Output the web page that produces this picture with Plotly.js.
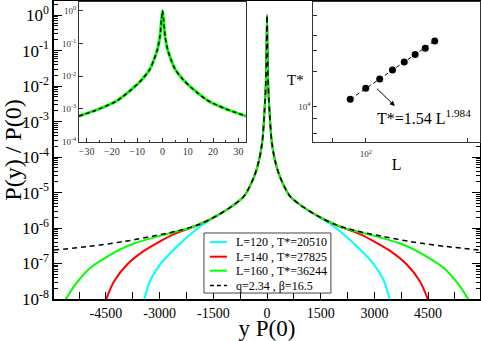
<!DOCTYPE html>
<html>
<head>
<meta charset="utf-8">
<script src="https://cdn.plot.ly/plotly-3.0.1.min.js"></script>
<style>html,body{margin:0;padding:0;background:#fff}</style>
</head>
<body>
<div id="chart" style="width:481px;height:341px"></div>
<script>
// main panel, y values kept as log10 of P(y)/P(0)
const dashX = [-5950,-5000,-4000,-3200,-2500,-1900,-1400,-1000,-640,-360,-220,-130,-70,-35,-15,0,15,35,70,130,220,360,640,1000,1400,1900,2500,3200,4000,5000,5950];
const dashLog = [-6.62,-6.52,-6.38,-6.23,-6.08,-5.9,-5.65,-5.4,-5.1,-4.55,-4.08,-3.55,-2.7,-2.0,-1.1,0,-1.1,-2.0,-2.7,-3.55,-4.08,-4.55,-5.1,-5.4,-5.65,-5.9,-6.08,-6.23,-6.38,-6.52,-6.62];

const cyanX = [-3440,-3249,-2969,-2597,-2226,-2000,-1760,-1400,-1000,-640,-360,-220,-130,-70,-35,-15,0,15,35,70,130,220,360,640,1000,1400,1760,2000,2226,2597,2969,3249,3440];
const cyanLog = [-8.05,-7.45,-7.0,-6.6,-6.25,-6.06,-5.88,-5.66,-5.4,-5.1,-4.55,-4.08,-3.55,-2.7,-2.0,-1.1,0,-1.1,-2.0,-2.7,-3.55,-4.08,-4.55,-5.1,-5.4,-5.66,-5.88,-6.06,-6.25,-6.6,-7.0,-7.45,-8.05];

const redX = [-4510,-4270,-3900,-3450,-3000,-2600,-2226,-1900,-1400,-1000,-640,-360,-220,-130,-70,-35,-15,0,15,35,70,130,220,360,640,1000,1400,1900,2226,2600,3000,3450,3900,4270,4510];
const redLog = [-8.05,-7.5,-7.02,-6.65,-6.38,-6.17,-6.03,-5.9,-5.65,-5.4,-5.1,-4.55,-4.08,-3.55,-2.7,-2.0,-1.1,0,-1.1,-2.0,-2.7,-3.55,-4.08,-4.55,-5.1,-5.4,-5.65,-5.9,-6.03,-6.17,-6.38,-6.65,-7.02,-7.5,-8.05];

const greenX = [-5650,-5330,-4900,-4450,-4100,-3700,-3000,-2226,-1900,-1400,-1000,-640,-360,-220,-130,-70,-35,-15,0,15,35,70,130,220,360,640,1000,1400,1900,2226,3000,3700,4100,4450,4900,5330,5650];
const greenLog = [-8.05,-7.56,-7.09,-6.8,-6.6,-6.43,-6.22,-6.02,-5.9,-5.65,-5.4,-5.1,-4.55,-4.08,-3.55,-2.7,-2.0,-1.1,0,-1.1,-2.0,-2.7,-3.55,-4.08,-4.55,-5.1,-5.4,-5.65,-5.9,-6.02,-6.22,-6.43,-6.6,-6.8,-7.09,-7.56,-8.05];

const legendNames = ['L=120 , T*=20510', 'L=140 , T*=27825', 'L=160 , T*=36244', 'q=2.34 , \u03b2=16.5'];
const legendColors = ['#00ffff', '#ff0000', '#00ff00', '#000000'];

// left inset
const insetX = [-33,-25,-18,-12,-8,-5,-3.3,-2,-1,-0.4,0,0.4,1,2,3.3,5,8,12,18,25,33];
const insetLog = [-3.22,-3.0,-2.75,-2.39,-2.09,-1.79,-1.48,-1.18,-0.78,-0.27,0,-0.27,-0.78,-1.18,-1.48,-1.79,-2.09,-2.39,-2.75,-3.0,-3.22];

// right inset
const sizes = [90,100,110,120,130,140,150,160];
const tStar = [11620,14400,17280,20510,24040,27825,31400,36244];

const mainTicks = [-5250,-4500,-3750,-3000,-2250,-1500,-750,0,750,1500,2250,3000,3750,4500,5250];
const mainTickText = ['','-4500','','-3000','','-1500','','0','','1500','','3000','','4500',''];

const toLin = a => a.map(v => Math.pow(10, v));
const serif = 'Liberation Serif, Times New Roman, serif';

const decades = [], decadeText = [], minorVals = [];
for (let e = -8; e <= 0; e++) {
    decades.push(Math.pow(10, e));
    decadeText.push('10<sup>' + e + '</sup>');
    for (let m = 2; m <= 9; m++) minorVals.push(m * Math.pow(10, e));
}

const traces = [
    {x: cyanX, y: toLin(cyanLog), name: legendNames[0], type: 'scatter', mode: 'lines',
        line: {color: legendColors[0], width: 2, shape: 'spline', smoothing: 0.8}},
    {x: redX, y: toLin(redLog), name: legendNames[1], type: 'scatter', mode: 'lines',
        line: {color: legendColors[1], width: 2, shape: 'spline', smoothing: 0.8}},
    {x: greenX, y: toLin(greenLog), name: legendNames[2], type: 'scatter', mode: 'lines',
        line: {color: legendColors[2], width: 2, shape: 'spline', smoothing: 0.8}},
    {x: dashX, y: toLin(dashLog), name: legendNames[3], type: 'scatter', mode: 'lines',
        line: {color: legendColors[3], width: 1.5, dash: '5px,4px', shape: 'spline', smoothing: 0.8}},
    {x: insetX, y: toLin(insetLog), xaxis: 'x2', yaxis: 'y2', type: 'scatter', mode: 'lines',
        line: {color: '#00ff00', width: 3, shape: 'spline', smoothing: 0.8}},
    {x: insetX, y: toLin(insetLog), xaxis: 'x2', yaxis: 'y2', type: 'scatter', mode: 'lines',
        line: {color: '#000000', width: 1.5, dash: '4px,3px', shape: 'spline', smoothing: 0.8}},
    {x: sizes, y: tStar, xaxis: 'x3', yaxis: 'y3', type: 'scatter', mode: 'lines+markers',
        line: {color: '#000000', width: 1, dash: '4px,3px'},
        marker: {color: '#000000', size: 7}}
];

// legend drawn by hand so the rows stay as tight as in the original
const legX0 = 0.352, legX1 = 0.650, legY0 = 0.020, legY1 = 0.2215;
const rowY = [0.191, 0.142, 0.095, 0.045];
const shapes = [
    {type: 'rect', xref: 'paper', yref: 'paper', x0: legX0, x1: legX1, y0: legY0, y1: legY1,
        fillcolor: '#fff', line: {color: '#444', width: 1}, layer: 'above'}
];
const annotations = [];
legendNames.forEach((name, i) => {
    shapes.push({type: 'line', xref: 'paper', yref: 'paper', x0: 0.366, x1: 0.406, y0: rowY[i], y1: rowY[i],
        line: {color: legendColors[i], width: i === 3 ? 1.5 : 2, dash: i === 3 ? '4px,3px' : 'solid'}, layer: 'above'});
    annotations.push({xref: 'paper', yref: 'paper', x: 0.4225, y: rowY[i], xanchor: 'left', yanchor: 'middle',
        text: name, showarrow: false, font: {family: serif, size: 12, color: '#000'}});
});
annotations.push(
    {xref: 'x3', yref: 'y3', axref: 'x3', ayref: 'y3',
        x: 2.086, y: 4.008, ax: 2.029, ay: 4.167, text: '',
        showarrow: true, arrowhead: 2, arrowsize: 1, arrowwidth: 1, arrowcolor: '#000'},
    {xref: 'x3', yref: 'y3', x: 2.172, y: 3.915, showarrow: false,
        text: 'T*=1.54 L<sup>1.984</sup>', font: {family: serif, size: 16, color: '#000'}},
    {xref: 'paper', yref: 'paper', x: 0.568, y: 0.768, showarrow: false,
        text: 'T*', font: {family: serif, size: 15, color: '#000'}}
);

const insetAxis = {
    showline: true, linecolor: '#333', linewidth: 1, mirror: true,
    showgrid: false, zeroline: false, ticks: 'inside', ticklen: 4, tickcolor: '#333',
    tickfont: {family: serif, size: 9, color: '#333'}
};

const layout = {
    width: 481, height: 341,
    margin: {l: 54, r: 1, t: 1, b: 42},
    paper_bgcolor: '#fff', plot_bgcolor: '#fff',
    font: {family: serif, color: '#000'},
    showlegend: false,
    xaxis: {
        domain: [0, 1], range: [-5950, 5950],
        tickmode: 'array', tickvals: mainTicks, ticktext: mainTickText,
        ticks: 'inside', ticklen: 7, tickcolor: '#000',
        showline: true, linecolor: '#000', linewidth: 1.5, mirror: true,
        showgrid: false, zeroline: false,
        tickfont: {family: serif, size: 14},
        title: {text: 'y P(0)', font: {family: serif, size: 23}, standoff: 13}
    },
    yaxis: {
        domain: [0, 1], type: 'log', range: [-8, 0.4],
        tickmode: 'array', tickvals: decades, ticktext: decadeText,
        ticks: 'inside', ticklen: 8, tickcolor: '#000',
        minor: {tickmode: 'array', tickvals: minorVals, ticks: 'inside', ticklen: 4, tickcolor: '#000', showgrid: false},
        showline: true, linecolor: '#000', linewidth: 1.5, mirror: 'ticks',
        showgrid: false, zeroline: false,
        tickfont: {family: serif, size: 17},
        title: {text: 'P(y) / P(0)', font: {family: serif, size: 24}, standoff: 4}
    },
    xaxis2: Object.assign({}, insetAxis, {
        domain: [0.0587, 0.4507], anchor: 'y2', range: [-33, 33],
        tickmode: 'array', tickvals: [-30,-20,-10,0,10,20,30],
        minor: {dtick: 5, tick0: 0, ticks: 'inside', ticklen: 2, tickcolor: '#333'},
        tickfont: {family: serif, size: 10, color: '#333'}
    }),
    yaxis2: Object.assign({}, insetAxis, {
        domain: [0.528, 0.997], anchor: 'x2', type: 'log', range: [-4, 0.27],
        tickmode: 'array', tickvals: [1e-4, 1e-3, 1e-2, 1e-1, 1],
        ticktext: ['10<sup>-4</sup>','10<sup>-3</sup>','10<sup>-2</sup>','10<sup>-1</sup>','10<sup>0</sup>']
    }),
    xaxis3: Object.assign({}, insetAxis, {
        domain: [0.6087, 1], anchor: 'y3', type: 'log', range: [1.845, 2.338],
        tickmode: 'array', tickvals: [80, 100, 200], ticktext: ['', '10<sup>2</sup>', ''],
        ticklabelstandoff: 4,
        title: {text: 'L', font: {family: serif, size: 16}, standoff: 0}
    }),
    yaxis3: Object.assign({}, insetAxis, {
        domain: [0.528, 0.997], anchor: 'x3', type: 'log', range: [3.706, 4.89],
        tickmode: 'array', tickvals: [6000, 8000, 10000, 20000, 30000, 40000, 60000],
        ticktext: ['', '', '10<sup>4</sup>', '', '', '', '']
    }),
    shapes: shapes,
    annotations: annotations
};

Plotly.newPlot('chart', traces, layout, {displayModeBar: false});
</script>
</body>
</html>
